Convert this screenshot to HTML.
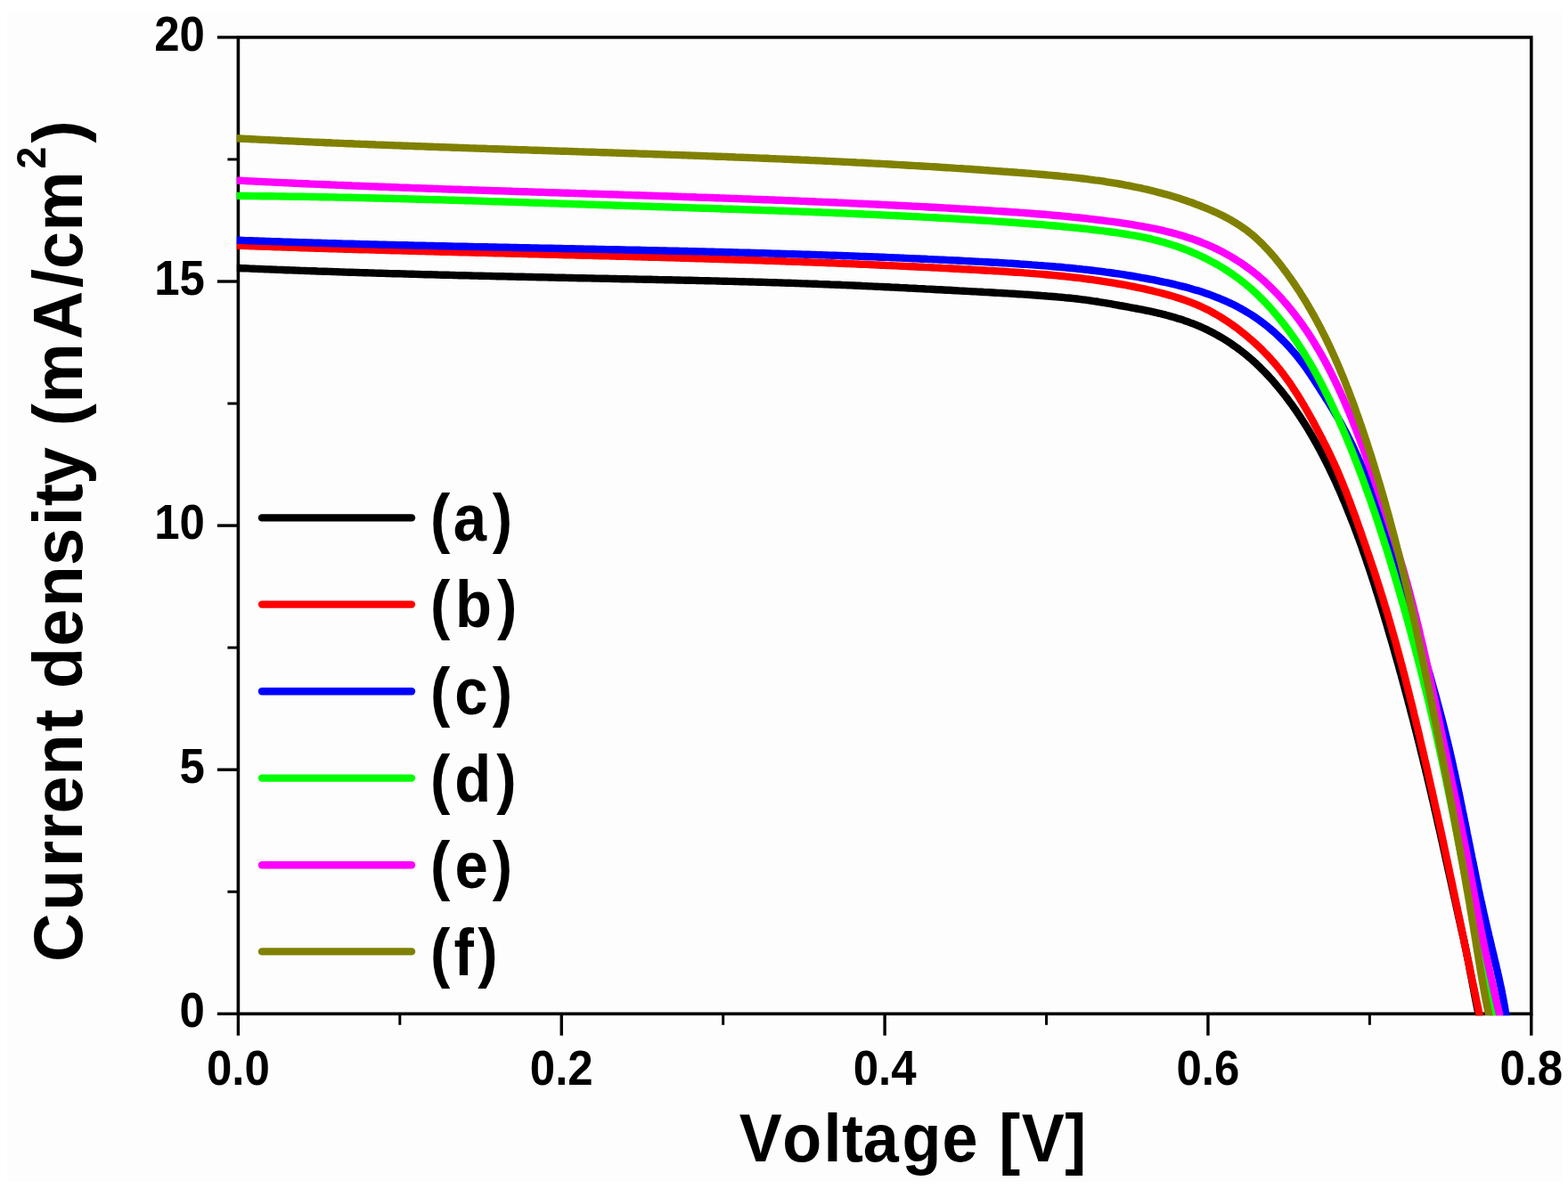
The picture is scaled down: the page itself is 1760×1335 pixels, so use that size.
<!DOCTYPE html>
<html lang="en">
<head>
<meta charset="utf-8">
<title>Current density vs Voltage</title>
<style>
html,body{margin:0;padding:0;background:#fff;}
body{width:1760px;height:1335px;overflow:hidden;}
svg{display:block;}
</style>
</head>
<body>
<svg width="1760" height="1335" viewBox="0 0 1760 1335" role="img" aria-label="Current density versus voltage curves (a) to (f)">
<rect x="0" y="0" width="1760" height="1335" fill="#ffffff"/>
<rect x="8" y="12" width="1746" height="1315" fill="#fdfdfd"/>
<rect x="267.4" y="41.9" width="1451.4" height="1096.4" fill="none" stroke="#000" stroke-width="3.6"/>
<g stroke="#000" stroke-width="3.4" fill="none">
<line x1="243.9" y1="1138.3" x2="267.4" y2="1138.3"/>
<line x1="243.9" y1="864.2" x2="267.4" y2="864.2"/>
<line x1="243.9" y1="590.1" x2="267.4" y2="590.1"/>
<line x1="243.9" y1="316.0" x2="267.4" y2="316.0"/>
<line x1="243.9" y1="41.9" x2="267.4" y2="41.9"/>
<line x1="255.4" y1="1001.25" x2="267.4" y2="1001.25" stroke-width="3"/>
<line x1="255.4" y1="727.15" x2="267.4" y2="727.15" stroke-width="3"/>
<line x1="255.4" y1="453.05" x2="267.4" y2="453.05" stroke-width="3"/>
<line x1="255.4" y1="178.95" x2="267.4" y2="178.95" stroke-width="3"/>
<line x1="267.4" y1="1138.3" x2="267.4" y2="1162.7"/>
<line x1="630.25" y1="1138.3" x2="630.25" y2="1162.7"/>
<line x1="993.1" y1="1138.3" x2="993.1" y2="1162.7"/>
<line x1="1355.95" y1="1138.3" x2="1355.95" y2="1162.7"/>
<line x1="1718.8" y1="1138.3" x2="1718.8" y2="1162.7"/>
<line x1="448.82" y1="1138.3" x2="448.82" y2="1150.8" stroke-width="3"/>
<line x1="811.68" y1="1138.3" x2="811.68" y2="1150.8" stroke-width="3"/>
<line x1="1174.53" y1="1138.3" x2="1174.53" y2="1150.8" stroke-width="3"/>
<line x1="1537.38" y1="1138.3" x2="1537.38" y2="1150.8" stroke-width="3"/>
</g>
<clipPath id="cp"><rect x="265.8" y="41.9" width="1451.4" height="1098.3"/></clipPath>
<g clip-path="url(#cp)" fill="none" stroke-width="8.4" stroke-linejoin="round" stroke-linecap="butt">
<path d="M262.0,300.7 L265.3,300.9 L268.5,301.0 L271.8,301.2 L275.0,301.3 L278.3,301.4 L281.5,301.6 L284.8,301.7 L288.0,301.9 L291.3,302.0 L294.5,302.1 L297.8,302.3 L301.0,302.4 L304.3,302.5 L307.5,302.6 L310.8,302.8 L314.0,302.9 L317.3,303.0 L320.5,303.2 L323.8,303.3 L327.0,303.4 L330.3,303.5 L333.6,303.6 L336.8,303.8 L340.1,303.9 L343.3,304.0 L346.6,304.1 L349.8,304.2 L353.1,304.3 L356.3,304.5 L359.6,304.6 L362.8,304.7 L366.1,304.8 L369.3,304.9 L372.6,305.0 L375.8,305.1 L379.1,305.2 L382.3,305.4 L385.6,305.5 L388.8,305.6 L392.1,305.7 L395.3,305.8 L398.6,305.9 L401.9,306.0 L405.1,306.1 L408.4,306.2 L411.6,306.3 L414.9,306.4 L418.1,306.5 L421.4,306.6 L424.6,306.7 L427.9,306.8 L431.1,306.9 L434.4,307.0 L437.6,307.1 L440.9,307.2 L444.1,307.3 L447.4,307.3 L450.6,307.4 L453.9,307.5 L457.2,307.6 L460.4,307.7 L463.7,307.8 L466.9,307.9 L470.2,308.0 L473.4,308.1 L476.7,308.2 L479.9,308.2 L483.2,308.3 L486.4,308.4 L489.7,308.5 L492.9,308.6 L496.2,308.7 L499.4,308.7 L502.7,308.8 L506.0,308.9 L509.2,309.0 L512.5,309.1 L515.7,309.2 L519.0,309.2 L522.2,309.3 L525.5,309.4 L528.7,309.5 L532.0,309.6 L535.2,309.6 L538.5,309.7 L541.7,309.8 L545.0,309.9 L548.2,309.9 L551.5,310.0 L554.8,310.1 L558.0,310.2 L561.3,310.2 L564.5,310.3 L567.8,310.4 L571.0,310.5 L574.3,310.5 L577.5,310.6 L580.8,310.7 L584.0,310.8 L587.3,310.8 L590.5,310.9 L593.8,311.0 L597.0,311.0 L600.3,311.1 L603.6,311.2 L606.8,311.3 L610.1,311.3 L613.3,311.4 L616.6,311.5 L619.8,311.5 L623.1,311.6 L626.3,311.7 L629.6,311.7 L632.8,311.8 L636.1,311.9 L639.3,312.0 L642.6,312.0 L645.9,312.1 L649.1,312.2 L652.4,312.2 L655.6,312.3 L658.9,312.4 L662.1,312.4 L665.4,312.5 L668.6,312.6 L671.9,312.6 L675.1,312.7 L678.4,312.8 L681.6,312.8 L684.9,312.9 L688.2,313.0 L691.4,313.0 L694.7,313.1 L697.9,313.2 L701.2,313.2 L704.4,313.3 L707.7,313.4 L710.9,313.4 L714.2,313.5 L717.4,313.6 L720.7,313.6 L723.9,313.7 L727.2,313.8 L730.5,313.8 L733.7,313.9 L737.0,314.0 L740.2,314.1 L743.5,314.1 L746.7,314.2 L750.0,314.3 L753.2,314.3 L756.5,314.4 L759.7,314.5 L763.0,314.5 L766.3,314.6 L769.5,314.7 L772.8,314.8 L776.0,314.8 L779.3,314.9 L782.5,315.0 L785.8,315.1 L789.0,315.1 L792.3,315.2 L795.5,315.3 L798.8,315.4 L802.0,315.4 L805.3,315.5 L808.6,315.6 L811.8,315.7 L815.1,315.8 L818.3,315.9 L821.6,315.9 L824.8,316.0 L828.1,316.1 L831.3,316.2 L834.6,316.3 L837.8,316.4 L841.1,316.5 L844.3,316.5 L847.6,316.6 L850.8,316.7 L854.1,316.8 L857.4,316.9 L860.6,317.0 L863.9,317.1 L867.1,317.2 L870.4,317.3 L873.6,317.4 L876.9,317.5 L880.1,317.6 L883.4,317.7 L886.6,317.8 L889.9,317.9 L893.1,318.0 L896.4,318.1 L899.6,318.3 L902.9,318.4 L906.1,318.5 L909.4,318.6 L912.6,318.7 L915.9,318.8 L919.2,319.0 L922.4,319.1 L925.7,319.2 L928.9,319.3 L932.2,319.5 L935.4,319.6 L938.7,319.7 L941.9,319.8 L945.2,320.0 L948.4,320.1 L951.7,320.2 L954.9,320.4 L958.2,320.5 L961.4,320.7 L964.7,320.8 L967.9,321.0 L971.2,321.1 L974.4,321.3 L977.7,321.4 L980.9,321.6 L984.2,321.7 L987.4,321.9 L990.7,322.0 L993.9,322.2 L997.2,322.3 L1000.4,322.5 L1003.7,322.6 L1006.9,322.8 L1010.2,323.0 L1013.4,323.1 L1016.7,323.3 L1019.9,323.5 L1023.2,323.6 L1026.4,323.8 L1029.7,324.0 L1032.9,324.1 L1036.2,324.3 L1039.4,324.5 L1042.7,324.6 L1045.9,324.8 L1049.2,325.0 L1052.4,325.2 L1055.7,325.3 L1058.9,325.5 L1062.2,325.7 L1065.4,325.8 L1068.7,326.0 L1071.9,326.2 L1075.2,326.4 L1078.4,326.6 L1081.7,326.7 L1084.9,326.9 L1088.2,327.1 L1091.4,327.3 L1094.7,327.4 L1097.9,327.6 L1101.2,327.8 L1104.4,328.0 L1107.7,328.1 L1110.9,328.3 L1114.2,328.5 L1117.4,328.7 L1120.7,328.9 L1123.9,329.0 L1127.2,329.2 L1130.4,329.4 L1133.7,329.6 L1136.9,329.8 L1140.2,330.0 L1143.4,330.2 L1146.7,330.4 L1149.9,330.6 L1153.2,330.8 L1156.4,331.0 L1159.7,331.3 L1162.9,331.5 L1166.2,331.7 L1169.4,332.0 L1172.6,332.2 L1175.9,332.5 L1179.1,332.7 L1182.4,333.0 L1185.6,333.3 L1188.9,333.6 L1192.1,333.8 L1195.3,334.2 L1198.6,334.5 L1201.8,334.8 L1205.0,335.1 L1208.3,335.5 L1211.5,335.9 L1214.7,336.3 L1217.9,336.7 L1221.2,337.1 L1224.4,337.6 L1227.6,338.1 L1230.8,338.5 L1234.0,339.1 L1237.2,339.6 L1240.4,340.1 L1243.7,340.7 L1246.9,341.2 L1250.1,341.8 L1253.3,342.4 L1256.5,343.0 L1259.7,343.5 L1262.9,344.1 L1266.1,344.7 L1269.3,345.3 L1272.5,345.9 L1275.7,346.5 L1278.9,347.1 L1282.1,347.7 L1285.3,348.4 L1288.5,349.0 L1291.7,349.7 L1294.9,350.4 L1298.0,351.1 L1301.2,351.8 L1304.4,352.6 L1307.5,353.4 L1310.7,354.2 L1313.8,355.1 L1317.0,356.0 L1320.1,356.9 L1323.2,357.9 L1326.3,358.8 L1329.4,359.9 L1332.5,360.9 L1335.5,362.1 L1338.6,363.2 L1341.6,364.4 L1344.6,365.6 L1347.6,366.9 L1350.6,368.3 L1353.5,369.6 L1356.4,371.1 L1359.4,372.5 L1362.2,374.0 L1365.1,375.6 L1368.0,377.2 L1370.8,378.8 L1373.6,380.5 L1376.4,382.3 L1379.1,384.0 L1381.8,385.8 L1384.5,387.7 L1387.2,389.6 L1389.8,391.5 L1392.5,393.5 L1395.0,395.5 L1397.6,397.5 L1400.1,399.6 L1402.6,401.7 L1405.1,403.9 L1407.5,406.0 L1409.9,408.2 L1412.3,410.5 L1414.6,412.8 L1416.9,415.1 L1419.2,417.4 L1421.5,419.7 L1423.7,422.1 L1425.9,424.5 L1428.1,426.9 L1430.2,429.4 L1432.3,431.9 L1434.4,434.4 L1436.5,436.9 L1438.6,439.4 L1440.6,442.0 L1442.6,444.5 L1444.6,447.1 L1446.5,449.7 L1448.4,452.3 L1450.4,454.9 L1452.2,457.6 L1454.1,460.2 L1455.9,462.9 L1457.8,465.6 L1459.6,468.3 L1461.3,471.0 L1463.1,473.8 L1464.8,476.5 L1466.6,479.3 L1468.3,482.0 L1469.9,484.8 L1471.6,487.6 L1473.2,490.4 L1474.9,493.3 L1476.5,496.1 L1478.1,498.9 L1479.6,501.8 L1481.2,504.6 L1482.7,507.5 L1484.2,510.4 L1485.7,513.3 L1487.2,516.2 L1488.7,519.1 L1490.1,522.0 L1491.6,524.9 L1493.0,527.9 L1494.4,530.8 L1495.8,533.8 L1497.2,536.7 L1498.6,539.7 L1499.9,542.6 L1501.2,545.6 L1502.6,548.6 L1503.9,551.6 L1505.2,554.6 L1506.5,557.6 L1507.7,560.6 L1509.0,563.6 L1510.3,566.6 L1511.5,569.6 L1512.7,572.6 L1513.9,575.6 L1515.2,578.7 L1516.3,581.7 L1517.5,584.7 L1518.7,587.7 L1519.9,590.8 L1521.0,593.8 L1522.2,596.9 L1523.3,599.9 L1524.4,603.0 L1525.6,606.0 L1526.7,609.1 L1527.8,612.1 L1528.9,615.2 L1529.9,618.3 L1531.0,621.3 L1532.1,624.4 L1533.2,627.5 L1534.2,630.6 L1535.2,633.6 L1536.3,636.7 L1537.3,639.8 L1538.3,642.9 L1539.4,646.0 L1540.4,649.1 L1541.4,652.2 L1542.4,655.3 L1543.4,658.4 L1544.3,661.5 L1545.3,664.6 L1546.3,667.7 L1547.3,670.8 L1548.2,673.9 L1549.2,677.0 L1550.1,680.1 L1551.1,683.2 L1552.0,686.3 L1553.0,689.4 L1553.9,692.6 L1554.8,695.7 L1555.8,698.8 L1556.7,701.9 L1557.6,705.0 L1558.5,708.2 L1559.4,711.3 L1560.3,714.4 L1561.3,717.5 L1562.2,720.7 L1563.1,723.8 L1564.0,726.9 L1564.9,730.0 L1565.7,733.2 L1566.6,736.3 L1567.5,739.4 L1568.4,742.6 L1569.3,745.7 L1570.2,748.8 L1571.0,752.0 L1571.9,755.1 L1572.8,758.2 L1573.6,761.4 L1574.5,764.5 L1575.3,767.7 L1576.2,770.8 L1577.0,773.9 L1577.9,777.1 L1578.7,780.2 L1579.6,783.4 L1580.4,786.5 L1581.2,789.7 L1582.1,792.8 L1582.9,796.0 L1583.7,799.1 L1584.5,802.3 L1585.4,805.4 L1586.2,808.6 L1587.0,811.7 L1587.8,814.9 L1588.6,818.0 L1589.4,821.2 L1590.2,824.3 L1591.0,827.5 L1591.8,830.6 L1592.6,833.8 L1593.4,837.0 L1594.2,840.1 L1594.9,843.3 L1595.7,846.4 L1596.5,849.6 L1597.3,852.8 L1598.0,855.9 L1598.8,859.1 L1599.6,862.2 L1600.3,865.4 L1601.1,868.6 L1601.9,871.7 L1602.6,874.9 L1603.4,878.1 L1604.1,881.2 L1604.9,884.4 L1605.6,887.6 L1606.4,890.8 L1607.1,893.9 L1607.8,897.1 L1608.6,900.3 L1609.3,903.4 L1610.0,906.6 L1610.7,909.8 L1611.5,913.0 L1612.2,916.1 L1612.9,919.3 L1613.6,922.5 L1614.3,925.7 L1615.0,928.8 L1615.8,932.0 L1616.5,935.2 L1617.2,938.4 L1617.9,941.5 L1618.6,944.7 L1619.3,947.9 L1620.0,951.1 L1620.7,954.3 L1621.4,957.4 L1622.1,960.6 L1622.8,963.8 L1623.5,967.0 L1624.2,970.1 L1624.9,973.3 L1625.6,976.5 L1626.3,979.7 L1627.0,982.9 L1627.7,986.0 L1628.4,989.2 L1629.1,992.4 L1629.8,995.6 L1630.5,998.7 L1631.2,1001.9 L1631.9,1005.1 L1632.6,1008.3 L1633.3,1011.4 L1634.0,1014.6 L1634.7,1017.8 L1635.4,1021.0 L1636.1,1024.1 L1636.8,1027.3 L1637.5,1030.5 L1638.2,1033.7 L1638.9,1036.8 L1639.6,1040.0 L1640.3,1043.2 L1641.0,1046.4 L1641.7,1049.5 L1642.5,1052.7 L1643.2,1055.9 L1643.8,1059.0 L1644.5,1062.2 L1645.2,1065.4 L1645.9,1068.6 L1646.5,1071.8 L1647.1,1075.0 L1647.8,1078.1 L1648.4,1081.3 L1649.0,1084.5 L1649.6,1087.7 L1650.2,1090.9 L1650.8,1094.1 L1651.5,1097.3 L1652.1,1100.5 L1652.7,1103.7 L1653.3,1106.9 L1653.9,1110.1 L1654.5,1113.3 L1655.1,1116.5 L1655.7,1119.7 L1656.3,1122.8 L1657.0,1126.0 L1657.6,1129.2 L1658.2,1132.4 L1658.9,1135.6 L1659.6,1138.8 L1660.2,1142.0" stroke="#000000"/>
<path d="M262.0,275.5 L265.3,275.7 L268.6,275.8 L271.8,275.9 L275.1,276.0 L278.4,276.1 L281.7,276.3 L285.0,276.4 L288.3,276.5 L291.6,276.6 L294.9,276.7 L298.2,276.8 L301.5,276.9 L304.7,277.1 L308.0,277.2 L311.3,277.3 L314.6,277.4 L317.9,277.5 L321.2,277.6 L324.5,277.7 L327.8,277.8 L331.1,277.9 L334.4,278.0 L337.6,278.2 L340.9,278.3 L344.2,278.4 L347.5,278.5 L350.8,278.6 L354.1,278.7 L357.4,278.8 L360.7,278.9 L364.0,279.0 L367.3,279.1 L370.5,279.2 L373.8,279.3 L377.1,279.4 L380.4,279.5 L383.7,279.6 L387.0,279.7 L390.3,279.8 L393.6,279.9 L396.9,280.0 L400.2,280.1 L403.4,280.2 L406.7,280.2 L410.0,280.3 L413.3,280.4 L416.6,280.5 L419.9,280.6 L423.2,280.7 L426.5,280.8 L429.8,280.9 L433.0,281.0 L436.3,281.1 L439.6,281.2 L442.9,281.3 L446.2,281.4 L449.5,281.4 L452.8,281.5 L456.1,281.6 L459.4,281.7 L462.7,281.8 L465.9,281.9 L469.2,282.0 L472.5,282.1 L475.8,282.1 L479.1,282.2 L482.4,282.3 L485.7,282.4 L489.0,282.5 L492.3,282.6 L495.5,282.7 L498.8,282.7 L502.1,282.8 L505.4,282.9 L508.7,283.0 L512.0,283.1 L515.3,283.2 L518.6,283.3 L521.9,283.3 L525.1,283.4 L528.4,283.5 L531.7,283.6 L535.0,283.7 L538.3,283.8 L541.6,283.8 L544.9,283.9 L548.2,284.0 L551.5,284.1 L554.8,284.2 L558.0,284.3 L561.3,284.3 L564.6,284.4 L567.9,284.5 L571.2,284.6 L574.5,284.7 L577.8,284.7 L581.1,284.8 L584.4,284.9 L587.6,285.0 L590.9,285.1 L594.2,285.2 L597.5,285.2 L600.8,285.3 L604.1,285.4 L607.4,285.5 L610.7,285.6 L614.0,285.7 L617.2,285.7 L620.5,285.8 L623.8,285.9 L627.1,286.0 L630.4,286.1 L633.7,286.2 L637.0,286.2 L640.3,286.3 L643.6,286.4 L646.8,286.5 L650.1,286.6 L653.4,286.7 L656.7,286.7 L660.0,286.8 L663.3,286.9 L666.6,287.0 L669.9,287.1 L673.2,287.2 L676.4,287.2 L679.7,287.3 L683.0,287.4 L686.3,287.5 L689.6,287.6 L692.9,287.7 L696.2,287.8 L699.5,287.9 L702.8,287.9 L706.0,288.0 L709.3,288.1 L712.6,288.2 L715.9,288.3 L719.2,288.4 L722.5,288.5 L725.8,288.6 L729.1,288.7 L732.3,288.7 L735.6,288.8 L738.9,288.9 L742.2,289.0 L745.5,289.1 L748.8,289.2 L752.1,289.3 L755.4,289.4 L758.7,289.5 L761.9,289.6 L765.2,289.7 L768.5,289.8 L771.8,289.9 L775.1,290.0 L778.4,290.1 L781.7,290.2 L785.0,290.3 L788.3,290.4 L791.5,290.5 L794.8,290.6 L798.1,290.7 L801.4,290.8 L804.7,290.9 L808.0,291.0 L811.3,291.1 L814.6,291.2 L817.9,291.3 L821.1,291.4 L824.4,291.5 L827.7,291.6 L831.0,291.7 L834.3,291.8 L837.6,291.9 L840.9,292.0 L844.2,292.1 L847.5,292.2 L850.7,292.3 L854.0,292.4 L857.3,292.6 L860.6,292.7 L863.9,292.8 L867.2,292.9 L870.5,293.0 L873.8,293.1 L877.0,293.2 L880.3,293.3 L883.6,293.5 L886.9,293.6 L890.2,293.7 L893.5,293.8 L896.8,293.9 L900.1,294.1 L903.4,294.2 L906.6,294.3 L909.9,294.4 L913.2,294.6 L916.5,294.7 L919.8,294.8 L923.1,294.9 L926.4,295.1 L929.7,295.2 L933.0,295.3 L936.2,295.4 L939.5,295.6 L942.8,295.7 L946.1,295.8 L949.4,296.0 L952.7,296.1 L956.0,296.2 L959.3,296.4 L962.5,296.5 L965.8,296.7 L969.1,296.8 L972.4,296.9 L975.7,297.1 L979.0,297.2 L982.3,297.4 L985.6,297.5 L988.9,297.7 L992.1,297.8 L995.4,298.0 L998.7,298.1 L1002.0,298.3 L1005.3,298.4 L1008.6,298.6 L1011.9,298.7 L1015.2,298.9 L1018.4,299.0 L1021.7,299.2 L1025.0,299.3 L1028.3,299.5 L1031.6,299.7 L1034.9,299.8 L1038.2,300.0 L1041.5,300.1 L1044.8,300.3 L1048.0,300.5 L1051.3,300.6 L1054.6,300.8 L1057.9,301.0 L1061.2,301.1 L1064.5,301.3 L1067.8,301.5 L1071.1,301.7 L1074.4,301.8 L1077.6,302.0 L1080.9,302.2 L1084.2,302.4 L1087.5,302.5 L1090.8,302.7 L1094.1,302.9 L1097.4,303.1 L1100.7,303.3 L1103.9,303.5 L1107.2,303.7 L1110.5,303.9 L1113.8,304.0 L1117.1,304.2 L1120.4,304.4 L1123.7,304.6 L1127.0,304.8 L1130.2,305.0 L1133.5,305.3 L1136.8,305.5 L1140.1,305.7 L1143.4,305.9 L1146.7,306.1 L1150.0,306.4 L1153.2,306.6 L1156.5,306.9 L1159.8,307.1 L1163.1,307.4 L1166.4,307.6 L1169.6,307.9 L1172.9,308.2 L1176.2,308.5 L1179.5,308.8 L1182.7,309.1 L1186.0,309.4 L1189.3,309.7 L1192.6,310.0 L1195.8,310.4 L1199.1,310.7 L1202.4,311.1 L1205.6,311.5 L1208.9,311.8 L1212.1,312.2 L1215.4,312.6 L1218.7,313.1 L1221.9,313.5 L1225.2,313.9 L1228.4,314.4 L1231.7,314.8 L1234.9,315.3 L1238.2,315.8 L1241.4,316.3 L1244.6,316.8 L1247.9,317.3 L1251.1,317.9 L1254.3,318.5 L1257.6,319.0 L1260.8,319.6 L1264.0,320.2 L1267.3,320.8 L1270.5,321.5 L1273.7,322.1 L1276.9,322.8 L1280.1,323.5 L1283.3,324.2 L1286.6,324.9 L1289.8,325.7 L1293.0,326.4 L1296.2,327.2 L1299.4,328.0 L1302.5,328.8 L1305.7,329.6 L1308.9,330.5 L1312.1,331.4 L1315.3,332.3 L1318.4,333.2 L1321.6,334.2 L1324.7,335.2 L1327.8,336.3 L1330.9,337.4 L1334.0,338.5 L1337.1,339.6 L1340.2,340.9 L1343.2,342.1 L1346.2,343.4 L1349.2,344.8 L1352.2,346.2 L1355.1,347.6 L1358.1,349.1 L1361.0,350.7 L1363.8,352.3 L1366.7,354.0 L1369.5,355.7 L1372.3,357.4 L1375.1,359.2 L1377.9,361.0 L1380.6,362.9 L1383.3,364.8 L1386.0,366.7 L1388.7,368.7 L1391.3,370.7 L1393.9,372.8 L1396.5,374.8 L1399.1,376.9 L1401.6,379.1 L1404.1,381.2 L1406.6,383.4 L1409.1,385.6 L1411.5,387.9 L1413.9,390.1 L1416.3,392.4 L1418.6,394.8 L1420.9,397.1 L1423.2,399.5 L1425.4,401.9 L1427.6,404.4 L1429.8,406.8 L1431.9,409.3 L1434.0,411.9 L1436.1,414.4 L1438.1,417.0 L1440.1,419.6 L1442.0,422.2 L1444.0,424.9 L1445.9,427.5 L1447.8,430.2 L1449.6,432.9 L1451.4,435.7 L1453.2,438.4 L1455.0,441.2 L1456.8,443.9 L1458.5,446.7 L1460.2,449.5 L1461.9,452.4 L1463.6,455.2 L1465.2,458.0 L1466.9,460.9 L1468.5,463.8 L1470.1,466.6 L1471.7,469.5 L1473.3,472.4 L1474.9,475.3 L1476.4,478.2 L1478.0,481.1 L1479.5,484.1 L1481.1,487.0 L1482.6,489.9 L1484.1,492.8 L1485.6,495.8 L1487.1,498.7 L1488.6,501.7 L1490.0,504.6 L1491.5,507.6 L1492.9,510.6 L1494.3,513.5 L1495.7,516.5 L1497.1,519.5 L1498.4,522.5 L1499.8,525.5 L1501.1,528.5 L1502.4,531.5 L1503.7,534.6 L1504.9,537.6 L1506.2,540.6 L1507.4,543.7 L1508.6,546.7 L1509.9,549.8 L1511.1,552.8 L1512.2,555.9 L1513.4,559.0 L1514.6,562.0 L1515.7,565.1 L1516.9,568.2 L1518.0,571.3 L1519.1,574.4 L1520.3,577.4 L1521.4,580.5 L1522.5,583.6 L1523.6,586.7 L1524.7,589.8 L1525.8,592.9 L1526.9,596.0 L1528.0,599.1 L1529.1,602.3 L1530.1,605.4 L1531.2,608.5 L1532.3,611.6 L1533.4,614.7 L1534.4,617.8 L1535.5,620.9 L1536.6,624.0 L1537.6,627.2 L1538.7,630.3 L1539.7,633.4 L1540.8,636.5 L1541.8,639.6 L1542.9,642.8 L1543.9,645.9 L1544.9,649.0 L1545.9,652.2 L1546.9,655.3 L1547.9,658.4 L1548.9,661.6 L1549.9,664.7 L1550.9,667.9 L1551.9,671.0 L1552.8,674.2 L1553.8,677.3 L1554.7,680.5 L1555.7,683.6 L1556.6,686.8 L1557.6,689.9 L1558.5,693.1 L1559.4,696.2 L1560.3,699.4 L1561.2,702.5 L1562.1,705.7 L1563.0,708.9 L1563.9,712.0 L1564.8,715.2 L1565.7,718.4 L1566.6,721.5 L1567.5,724.7 L1568.3,727.9 L1569.2,731.1 L1570.1,734.2 L1570.9,737.4 L1571.8,740.6 L1572.6,743.8 L1573.5,746.9 L1574.3,750.1 L1575.1,753.3 L1576.0,756.5 L1576.8,759.7 L1577.6,762.9 L1578.4,766.1 L1579.2,769.2 L1580.0,772.4 L1580.8,775.6 L1581.6,778.8 L1582.4,782.0 L1583.2,785.2 L1584.0,788.4 L1584.8,791.6 L1585.6,794.8 L1586.4,798.0 L1587.1,801.2 L1587.9,804.4 L1588.7,807.6 L1589.5,810.8 L1590.2,814.0 L1591.0,817.2 L1591.8,820.4 L1592.5,823.6 L1593.3,826.8 L1594.0,830.0 L1594.8,833.2 L1595.5,836.4 L1596.3,839.6 L1597.0,842.8 L1597.8,846.0 L1598.5,849.2 L1599.2,852.4 L1600.0,855.6 L1600.7,858.8 L1601.5,862.0 L1602.2,865.2 L1602.9,868.4 L1603.6,871.6 L1604.4,874.9 L1605.1,878.1 L1605.8,881.3 L1606.5,884.5 L1607.3,887.7 L1608.0,890.9 L1608.7,894.1 L1609.4,897.3 L1610.1,900.5 L1610.8,903.8 L1611.5,907.0 L1612.3,910.2 L1613.0,913.4 L1613.7,916.6 L1614.4,919.8 L1615.1,923.0 L1615.8,926.3 L1616.5,929.5 L1617.2,932.7 L1617.9,935.9 L1618.6,939.1 L1619.3,942.3 L1620.0,945.6 L1620.7,948.8 L1621.3,952.0 L1622.0,955.2 L1622.7,958.4 L1623.4,961.6 L1624.1,964.9 L1624.8,968.1 L1625.5,971.3 L1626.2,974.5 L1626.8,977.7 L1627.5,981.0 L1628.2,984.2 L1628.9,987.4 L1629.6,990.6 L1630.3,993.8 L1630.9,997.1 L1631.6,1000.3 L1632.3,1003.5 L1633.0,1006.7 L1633.6,1009.9 L1634.3,1013.2 L1635.0,1016.4 L1635.7,1019.6 L1636.3,1022.8 L1637.0,1026.0 L1637.7,1029.3 L1638.4,1032.5 L1639.0,1035.7 L1639.7,1038.9 L1640.4,1042.2 L1641.0,1045.4 L1641.7,1048.6 L1642.4,1051.8 L1643.1,1055.0 L1643.7,1058.3 L1644.4,1061.5 L1645.1,1064.7 L1645.7,1067.9 L1646.4,1071.1 L1647.1,1074.4 L1647.7,1077.6 L1648.4,1080.8 L1649.1,1084.0 L1649.8,1087.3 L1650.4,1090.5 L1651.1,1093.7 L1651.8,1096.9 L1652.4,1100.1 L1653.1,1103.4 L1653.8,1106.6 L1654.5,1109.8 L1655.1,1113.0 L1655.8,1116.2 L1656.5,1119.5 L1657.1,1122.7 L1657.8,1125.9 L1658.5,1129.1 L1659.2,1132.3 L1659.8,1135.6 L1660.5,1138.8 L1661.2,1142.0" stroke="#ff0000"/>
<path d="M262.0,269.6 L265.3,269.7 L268.7,269.8 L272.0,269.9 L275.4,270.1 L278.7,270.2 L282.1,270.3 L285.4,270.4 L288.8,270.5 L292.1,270.7 L295.5,270.8 L298.8,270.9 L302.1,271.0 L305.5,271.1 L308.8,271.2 L312.2,271.3 L315.5,271.4 L318.9,271.6 L322.2,271.7 L325.6,271.8 L328.9,271.9 L332.2,272.0 L335.6,272.1 L338.9,272.2 L342.3,272.3 L345.6,272.4 L349.0,272.5 L352.3,272.6 L355.7,272.7 L359.0,272.8 L362.4,272.9 L365.7,273.0 L369.0,273.1 L372.4,273.2 L375.7,273.3 L379.1,273.4 L382.4,273.5 L385.8,273.6 L389.1,273.6 L392.5,273.7 L395.8,273.8 L399.2,273.9 L402.5,274.0 L405.8,274.1 L409.2,274.2 L412.5,274.3 L415.9,274.4 L419.2,274.4 L422.6,274.5 L425.9,274.6 L429.3,274.7 L432.6,274.8 L436.0,274.9 L439.3,274.9 L442.6,275.0 L446.0,275.1 L449.3,275.2 L452.7,275.3 L456.0,275.3 L459.4,275.4 L462.7,275.5 L466.1,275.6 L469.4,275.7 L472.8,275.7 L476.1,275.8 L479.5,275.9 L482.8,276.0 L486.1,276.0 L489.5,276.1 L492.8,276.2 L496.2,276.3 L499.5,276.3 L502.9,276.4 L506.2,276.5 L509.6,276.6 L512.9,276.6 L516.3,276.7 L519.6,276.8 L523.0,276.8 L526.3,276.9 L529.6,277.0 L533.0,277.1 L536.3,277.1 L539.7,277.2 L543.0,277.3 L546.4,277.3 L549.7,277.4 L553.1,277.5 L556.4,277.5 L559.8,277.6 L563.1,277.7 L566.5,277.8 L569.8,277.8 L573.2,277.9 L576.5,278.0 L579.8,278.0 L583.2,278.1 L586.5,278.2 L589.9,278.2 L593.2,278.3 L596.6,278.4 L599.9,278.4 L603.3,278.5 L606.6,278.6 L610.0,278.6 L613.3,278.7 L616.7,278.8 L620.0,278.8 L623.3,278.9 L626.7,279.0 L630.0,279.0 L633.4,279.1 L636.7,279.2 L640.1,279.2 L643.4,279.3 L646.8,279.4 L650.1,279.4 L653.5,279.5 L656.8,279.6 L660.2,279.6 L663.5,279.7 L666.9,279.8 L670.2,279.9 L673.5,279.9 L676.9,280.0 L680.2,280.1 L683.6,280.1 L686.9,280.2 L690.3,280.3 L693.6,280.3 L697.0,280.4 L700.3,280.5 L703.7,280.6 L707.0,280.6 L710.4,280.7 L713.7,280.8 L717.0,280.8 L720.4,280.9 L723.7,281.0 L727.1,281.1 L730.4,281.1 L733.8,281.2 L737.1,281.3 L740.5,281.4 L743.8,281.4 L747.2,281.5 L750.5,281.6 L753.9,281.7 L757.2,281.7 L760.5,281.8 L763.9,281.9 L767.2,282.0 L770.6,282.0 L773.9,282.1 L777.3,282.2 L780.6,282.3 L784.0,282.4 L787.3,282.4 L790.7,282.5 L794.0,282.6 L797.4,282.7 L800.7,282.8 L804.0,282.9 L807.4,282.9 L810.7,283.0 L814.1,283.1 L817.4,283.2 L820.8,283.3 L824.1,283.4 L827.5,283.5 L830.8,283.6 L834.2,283.6 L837.5,283.7 L840.8,283.8 L844.2,283.9 L847.5,284.0 L850.9,284.1 L854.2,284.2 L857.6,284.3 L860.9,284.4 L864.3,284.5 L867.6,284.6 L871.0,284.7 L874.3,284.8 L877.6,284.9 L881.0,285.0 L884.3,285.1 L887.7,285.2 L891.0,285.3 L894.4,285.4 L897.7,285.5 L901.1,285.6 L904.4,285.7 L907.8,285.8 L911.1,285.9 L914.4,286.0 L917.8,286.1 L921.1,286.2 L924.5,286.4 L927.8,286.5 L931.2,286.6 L934.5,286.7 L937.9,286.8 L941.2,286.9 L944.5,287.0 L947.9,287.2 L951.2,287.3 L954.6,287.4 L957.9,287.5 L961.3,287.6 L964.6,287.8 L968.0,287.9 L971.3,288.0 L974.6,288.2 L978.0,288.3 L981.3,288.4 L984.7,288.5 L988.0,288.7 L991.4,288.8 L994.7,288.9 L998.1,289.1 L1001.4,289.2 L1004.7,289.4 L1008.1,289.5 L1011.4,289.6 L1014.8,289.8 L1018.1,289.9 L1021.5,290.1 L1024.8,290.2 L1028.2,290.4 L1031.5,290.5 L1034.8,290.7 L1038.2,290.8 L1041.5,291.0 L1044.9,291.1 L1048.2,291.3 L1051.6,291.4 L1054.9,291.6 L1058.2,291.7 L1061.6,291.9 L1064.9,292.1 L1068.3,292.2 L1071.6,292.4 L1075.0,292.5 L1078.3,292.7 L1081.6,292.9 L1085.0,293.1 L1088.3,293.2 L1091.7,293.4 L1095.0,293.6 L1098.4,293.8 L1101.7,293.9 L1105.0,294.1 L1108.4,294.3 L1111.7,294.5 L1115.1,294.7 L1118.4,294.8 L1121.8,295.0 L1125.1,295.2 L1128.4,295.4 L1131.8,295.6 L1135.1,295.8 L1138.5,296.0 L1141.8,296.2 L1145.1,296.5 L1148.5,296.7 L1151.8,296.9 L1155.2,297.1 L1158.5,297.4 L1161.8,297.6 L1165.2,297.9 L1168.5,298.1 L1171.9,298.4 L1175.2,298.6 L1178.5,298.9 L1181.9,299.2 L1185.2,299.5 L1188.5,299.7 L1191.9,300.0 L1195.2,300.4 L1198.5,300.7 L1201.8,301.0 L1205.2,301.3 L1208.5,301.7 L1211.8,302.0 L1215.2,302.4 L1218.5,302.7 L1221.8,303.1 L1225.1,303.5 L1228.4,303.9 L1231.8,304.3 L1235.1,304.7 L1238.4,305.1 L1241.7,305.6 L1245.0,306.0 L1248.4,306.5 L1251.7,307.0 L1255.0,307.4 L1258.3,307.9 L1261.6,308.4 L1264.9,309.0 L1268.2,309.5 L1271.5,310.0 L1274.8,310.6 L1278.1,311.2 L1281.4,311.8 L1284.7,312.4 L1288.0,313.0 L1291.3,313.6 L1294.6,314.2 L1297.9,314.9 L1301.2,315.6 L1304.5,316.3 L1307.8,317.0 L1311.1,317.7 L1314.3,318.4 L1317.6,319.2 L1320.9,320.0 L1324.2,320.8 L1327.4,321.6 L1330.7,322.4 L1333.9,323.3 L1337.1,324.2 L1340.3,325.2 L1343.6,326.1 L1346.8,327.1 L1349.9,328.1 L1353.1,329.2 L1356.3,330.3 L1359.4,331.4 L1362.5,332.6 L1365.6,333.8 L1368.7,335.0 L1371.8,336.3 L1374.9,337.6 L1377.9,339.0 L1380.9,340.4 L1383.9,341.8 L1386.9,343.3 L1389.9,344.9 L1392.8,346.5 L1395.7,348.1 L1398.6,349.8 L1401.4,351.5 L1404.3,353.3 L1407.1,355.1 L1409.9,357.0 L1412.6,358.9 L1415.3,360.9 L1418.0,362.9 L1420.7,365.0 L1423.3,367.1 L1425.9,369.3 L1428.5,371.5 L1431.0,373.7 L1433.5,376.0 L1436.0,378.3 L1438.4,380.6 L1440.8,383.0 L1443.2,385.4 L1445.5,387.9 L1447.8,390.4 L1450.0,392.9 L1452.2,395.4 L1454.4,398.0 L1456.5,400.6 L1458.6,403.3 L1460.6,405.9 L1462.6,408.6 L1464.6,411.3 L1466.6,414.0 L1468.5,416.8 L1470.4,419.5 L1472.2,422.3 L1474.1,425.1 L1475.9,427.9 L1477.7,430.7 L1479.5,433.5 L1481.4,436.4 L1483.1,439.2 L1484.9,442.0 L1486.7,444.8 L1488.5,447.7 L1490.3,450.5 L1492.1,453.3 L1493.8,456.2 L1495.6,459.0 L1497.3,461.9 L1499.0,464.8 L1500.7,467.6 L1502.4,470.5 L1504.1,473.4 L1505.7,476.3 L1507.3,479.3 L1508.9,482.2 L1510.5,485.1 L1512.0,488.1 L1513.5,491.1 L1515.0,494.1 L1516.5,497.1 L1518.0,500.1 L1519.4,503.1 L1520.8,506.2 L1522.2,509.2 L1523.6,512.3 L1524.9,515.3 L1526.3,518.4 L1527.6,521.5 L1528.9,524.6 L1530.2,527.7 L1531.5,530.8 L1532.7,533.9 L1534.0,537.0 L1535.2,540.1 L1536.4,543.2 L1537.6,546.3 L1538.8,549.4 L1540.0,552.5 L1541.2,555.7 L1542.3,558.8 L1543.5,562.0 L1544.6,565.1 L1545.7,568.3 L1546.8,571.4 L1547.9,574.6 L1549.0,577.7 L1550.1,580.9 L1551.2,584.0 L1552.3,587.2 L1553.3,590.4 L1554.4,593.6 L1555.4,596.7 L1556.5,599.9 L1557.5,603.1 L1558.5,606.3 L1559.6,609.5 L1560.6,612.7 L1561.6,615.8 L1562.6,619.0 L1563.6,622.2 L1564.6,625.4 L1565.6,628.6 L1566.6,631.8 L1567.6,635.0 L1568.6,638.2 L1569.6,641.4 L1570.6,644.6 L1571.6,647.8 L1572.6,651.0 L1573.6,654.2 L1574.6,657.4 L1575.5,660.6 L1576.5,663.8 L1577.5,667.0 L1578.5,670.2 L1579.5,673.4 L1580.5,676.6 L1581.5,679.8 L1582.5,683.0 L1583.5,686.2 L1584.4,689.4 L1585.4,692.6 L1586.4,695.8 L1587.4,699.0 L1588.4,702.2 L1589.3,705.4 L1590.3,708.6 L1591.3,711.8 L1592.3,715.0 L1593.2,718.2 L1594.2,721.4 L1595.1,724.6 L1596.1,727.8 L1597.1,731.0 L1598.0,734.2 L1599.0,737.4 L1599.9,740.6 L1600.8,743.9 L1601.8,747.1 L1602.7,750.3 L1603.6,753.5 L1604.6,756.7 L1605.5,759.9 L1606.4,763.2 L1607.3,766.4 L1608.2,769.6 L1609.1,772.8 L1610.0,776.0 L1610.9,779.3 L1611.8,782.5 L1612.7,785.7 L1613.5,788.9 L1614.4,792.2 L1615.3,795.4 L1616.1,798.6 L1617.0,801.9 L1617.8,805.1 L1618.7,808.4 L1619.5,811.6 L1620.3,814.8 L1621.1,818.1 L1621.9,821.3 L1622.7,824.6 L1623.5,827.8 L1624.3,831.1 L1625.1,834.3 L1625.9,837.6 L1626.7,840.8 L1627.4,844.1 L1628.2,847.4 L1628.9,850.6 L1629.7,853.9 L1630.4,857.1 L1631.1,860.4 L1631.8,863.7 L1632.6,866.9 L1633.3,870.2 L1634.0,873.5 L1634.7,876.8 L1635.4,880.0 L1636.1,883.3 L1636.8,886.6 L1637.5,889.9 L1638.2,893.1 L1638.8,896.4 L1639.5,899.7 L1640.2,903.0 L1640.9,906.3 L1641.5,909.5 L1642.2,912.8 L1642.9,916.1 L1643.5,919.4 L1644.2,922.7 L1644.9,925.9 L1645.5,929.2 L1646.2,932.5 L1646.8,935.8 L1647.5,939.1 L1648.2,942.4 L1648.8,945.6 L1649.5,948.9 L1650.1,952.2 L1650.8,955.5 L1651.5,958.8 L1652.1,962.1 L1652.8,965.3 L1653.5,968.6 L1654.1,971.9 L1654.8,975.2 L1655.5,978.5 L1656.1,981.7 L1656.8,985.0 L1657.5,988.3 L1658.2,991.6 L1658.9,994.9 L1659.5,998.1 L1660.2,1001.4 L1660.9,1004.7 L1661.6,1008.0 L1662.3,1011.2 L1663.1,1014.5 L1663.8,1017.8 L1664.5,1021.0 L1665.2,1024.3 L1665.9,1027.6 L1666.7,1030.8 L1667.4,1034.1 L1668.2,1037.4 L1668.9,1040.6 L1669.7,1043.9 L1670.5,1047.1 L1671.2,1050.4 L1672.0,1053.6 L1672.8,1056.9 L1673.6,1060.2 L1674.3,1063.4 L1675.1,1066.7 L1675.9,1069.9 L1676.7,1073.2 L1677.4,1076.4 L1678.2,1079.7 L1679.0,1082.9 L1679.7,1086.2 L1680.5,1089.4 L1681.2,1092.7 L1682.0,1096.0 L1682.7,1099.2 L1683.4,1102.5 L1684.1,1105.8 L1684.8,1109.0 L1685.5,1112.3 L1686.1,1115.6 L1686.8,1118.9 L1687.4,1122.2 L1688.0,1125.5 L1688.6,1128.8 L1689.2,1132.1 L1689.7,1135.4 L1690.3,1138.7 L1690.8,1142.0" stroke="#0000ff"/>
<path d="M262.0,219.9 L265.4,219.9 L268.8,219.9 L272.2,220.0 L275.5,220.0 L278.9,220.0 L282.3,220.1 L285.7,220.1 L289.1,220.1 L292.5,220.2 L295.9,220.2 L299.3,220.2 L302.7,220.3 L306.1,220.3 L309.5,220.4 L312.9,220.4 L316.2,220.5 L319.6,220.5 L323.0,220.6 L326.4,220.6 L329.8,220.7 L333.2,220.7 L336.6,220.8 L340.0,220.8 L343.4,220.9 L346.8,220.9 L350.2,221.0 L353.5,221.0 L356.9,221.1 L360.3,221.2 L363.7,221.2 L367.1,221.3 L370.5,221.4 L373.9,221.4 L377.3,221.5 L380.7,221.6 L384.1,221.6 L387.4,221.7 L390.8,221.8 L394.2,221.8 L397.6,221.9 L401.0,222.0 L404.4,222.1 L407.8,222.1 L411.2,222.2 L414.6,222.3 L418.0,222.4 L421.3,222.5 L424.7,222.5 L428.1,222.6 L431.5,222.7 L434.9,222.8 L438.3,222.9 L441.7,223.0 L445.1,223.1 L448.5,223.1 L451.8,223.2 L455.2,223.3 L458.6,223.4 L462.0,223.5 L465.4,223.6 L468.8,223.7 L472.2,223.8 L475.6,223.9 L479.0,224.0 L482.3,224.1 L485.7,224.1 L489.1,224.2 L492.5,224.3 L495.9,224.4 L499.3,224.5 L502.7,224.6 L506.1,224.7 L509.5,224.8 L512.8,224.9 L516.2,225.0 L519.6,225.1 L523.0,225.2 L526.4,225.3 L529.8,225.4 L533.2,225.5 L536.6,225.6 L540.0,225.7 L543.3,225.9 L546.7,226.0 L550.1,226.1 L553.5,226.2 L556.9,226.3 L560.3,226.4 L563.7,226.5 L567.1,226.6 L570.4,226.7 L573.8,226.8 L577.2,226.9 L580.6,227.0 L584.0,227.1 L587.4,227.2 L590.8,227.3 L594.2,227.5 L597.6,227.6 L600.9,227.7 L604.3,227.8 L607.7,227.9 L611.1,228.0 L614.5,228.1 L617.9,228.2 L621.3,228.3 L624.7,228.4 L628.1,228.6 L631.4,228.7 L634.8,228.8 L638.2,228.9 L641.6,229.0 L645.0,229.1 L648.4,229.2 L651.8,229.3 L655.2,229.4 L658.6,229.6 L661.9,229.7 L665.3,229.8 L668.7,229.9 L672.1,230.0 L675.5,230.1 L678.9,230.2 L682.3,230.3 L685.7,230.4 L689.1,230.5 L692.4,230.7 L695.8,230.8 L699.2,230.9 L702.6,231.0 L706.0,231.1 L709.4,231.2 L712.8,231.3 L716.2,231.4 L719.6,231.5 L722.9,231.6 L726.3,231.7 L729.7,231.8 L733.1,232.0 L736.5,232.1 L739.9,232.2 L743.3,232.3 L746.7,232.4 L750.1,232.5 L753.5,232.6 L756.8,232.7 L760.2,232.8 L763.6,232.9 L767.0,233.0 L770.4,233.1 L773.8,233.2 L777.2,233.4 L780.6,233.5 L784.0,233.6 L787.3,233.7 L790.7,233.8 L794.1,233.9 L797.5,234.0 L800.9,234.1 L804.3,234.2 L807.7,234.3 L811.1,234.5 L814.5,234.6 L817.9,234.7 L821.2,234.8 L824.6,234.9 L828.0,235.0 L831.4,235.1 L834.8,235.3 L838.2,235.4 L841.6,235.5 L845.0,235.6 L848.4,235.7 L851.7,235.8 L855.1,236.0 L858.5,236.1 L861.9,236.2 L865.3,236.3 L868.7,236.4 L872.1,236.6 L875.5,236.7 L878.9,236.8 L882.3,236.9 L885.6,237.0 L889.0,237.2 L892.4,237.3 L895.8,237.4 L899.2,237.6 L902.6,237.7 L906.0,237.8 L909.4,237.9 L912.7,238.1 L916.1,238.2 L919.5,238.3 L922.9,238.5 L926.3,238.6 L929.7,238.7 L933.1,238.9 L936.5,239.0 L939.9,239.2 L943.2,239.3 L946.6,239.4 L950.0,239.6 L953.4,239.7 L956.8,239.9 L960.2,240.0 L963.6,240.2 L966.9,240.3 L970.3,240.5 L973.7,240.6 L977.1,240.8 L980.5,240.9 L983.9,241.1 L987.3,241.2 L990.7,241.4 L994.0,241.6 L997.4,241.7 L1000.8,241.9 L1004.2,242.0 L1007.6,242.2 L1011.0,242.4 L1014.4,242.5 L1017.7,242.7 L1021.1,242.9 L1024.5,243.1 L1027.9,243.2 L1031.3,243.4 L1034.7,243.6 L1038.0,243.8 L1041.4,243.9 L1044.8,244.1 L1048.2,244.3 L1051.6,244.5 L1055.0,244.7 L1058.4,244.9 L1061.7,245.1 L1065.1,245.2 L1068.5,245.4 L1071.9,245.6 L1075.3,245.8 L1078.6,246.0 L1082.0,246.2 L1085.4,246.4 L1088.8,246.6 L1092.2,246.8 L1095.6,247.1 L1098.9,247.3 L1102.3,247.5 L1105.7,247.7 L1109.1,247.9 L1112.5,248.1 L1115.8,248.4 L1119.2,248.6 L1122.6,248.8 L1126.0,249.0 L1129.4,249.3 L1132.7,249.5 L1136.1,249.7 L1139.5,250.0 L1142.9,250.2 L1146.3,250.5 L1149.6,250.7 L1153.0,251.0 L1156.4,251.3 L1159.8,251.5 L1163.2,251.8 L1166.5,252.1 L1169.9,252.3 L1173.3,252.6 L1176.7,252.9 L1180.1,253.2 L1183.4,253.5 L1186.8,253.8 L1190.2,254.1 L1193.6,254.5 L1196.9,254.8 L1200.3,255.1 L1203.7,255.4 L1207.1,255.8 L1210.5,256.1 L1213.8,256.5 L1217.2,256.8 L1220.6,257.2 L1224.0,257.6 L1227.3,258.0 L1230.7,258.4 L1234.1,258.8 L1237.5,259.2 L1240.8,259.6 L1244.2,260.0 L1247.6,260.5 L1251.0,261.0 L1254.3,261.4 L1257.7,261.9 L1261.1,262.5 L1264.4,263.0 L1267.8,263.6 L1271.1,264.1 L1274.5,264.7 L1277.8,265.4 L1281.2,266.0 L1284.5,266.7 L1287.8,267.4 L1291.1,268.2 L1294.4,269.0 L1297.7,269.8 L1301.0,270.6 L1304.3,271.5 L1307.6,272.4 L1310.8,273.4 L1314.1,274.4 L1317.3,275.4 L1320.5,276.5 L1323.7,277.6 L1326.9,278.8 L1330.1,280.0 L1333.2,281.2 L1336.4,282.5 L1339.5,283.8 L1342.6,285.1 L1345.7,286.5 L1348.7,288.0 L1351.8,289.4 L1354.8,290.9 L1357.8,292.5 L1360.8,294.1 L1363.7,295.7 L1366.7,297.3 L1369.6,299.0 L1372.5,300.8 L1375.3,302.6 L1378.2,304.4 L1381.0,306.3 L1383.8,308.2 L1386.5,310.1 L1389.2,312.1 L1391.9,314.1 L1394.6,316.2 L1397.2,318.3 L1399.8,320.4 L1402.4,322.6 L1405.0,324.8 L1407.5,327.1 L1409.9,329.4 L1412.4,331.8 L1414.8,334.1 L1417.2,336.5 L1419.6,339.0 L1421.9,341.4 L1424.2,343.9 L1426.5,346.4 L1428.7,349.0 L1430.9,351.5 L1433.1,354.1 L1435.3,356.7 L1437.4,359.4 L1439.5,362.0 L1441.6,364.7 L1443.7,367.4 L1445.7,370.1 L1447.7,372.8 L1449.7,375.6 L1451.7,378.3 L1453.6,381.1 L1455.5,383.9 L1457.4,386.7 L1459.2,389.6 L1461.1,392.4 L1462.9,395.3 L1464.7,398.2 L1466.5,401.1 L1468.2,404.0 L1470.0,406.9 L1471.7,409.8 L1473.4,412.8 L1475.1,415.7 L1476.7,418.7 L1478.4,421.7 L1480.0,424.7 L1481.6,427.7 L1483.2,430.7 L1484.7,433.8 L1486.3,436.8 L1487.8,439.8 L1489.3,442.9 L1490.8,446.0 L1492.3,449.0 L1493.8,452.1 L1495.3,455.2 L1496.7,458.3 L1498.1,461.4 L1499.6,464.5 L1501.0,467.6 L1502.4,470.7 L1503.7,473.8 L1505.1,477.0 L1506.5,480.1 L1507.8,483.2 L1509.2,486.3 L1510.5,489.5 L1511.8,492.6 L1513.1,495.8 L1514.4,498.9 L1515.7,502.0 L1517.0,505.2 L1518.2,508.3 L1519.5,511.5 L1520.7,514.6 L1522.0,517.8 L1523.2,521.0 L1524.4,524.1 L1525.6,527.3 L1526.8,530.4 L1528.0,533.6 L1529.2,536.8 L1530.4,540.0 L1531.5,543.1 L1532.7,546.3 L1533.8,549.5 L1535.0,552.7 L1536.1,555.9 L1537.3,559.1 L1538.4,562.2 L1539.5,565.4 L1540.6,568.6 L1541.7,571.8 L1542.8,575.0 L1543.9,578.2 L1544.9,581.4 L1546.0,584.6 L1547.1,587.8 L1548.1,591.1 L1549.2,594.3 L1550.2,597.5 L1551.3,600.7 L1552.3,603.9 L1553.3,607.1 L1554.3,610.4 L1555.4,613.6 L1556.4,616.8 L1557.4,620.0 L1558.4,623.3 L1559.4,626.5 L1560.4,629.7 L1561.4,633.0 L1562.3,636.2 L1563.3,639.4 L1564.3,642.7 L1565.3,645.9 L1566.2,649.2 L1567.2,652.4 L1568.2,655.7 L1569.1,658.9 L1570.1,662.2 L1571.0,665.4 L1571.9,668.7 L1572.9,671.9 L1573.8,675.2 L1574.8,678.4 L1575.7,681.7 L1576.6,685.0 L1577.5,688.2 L1578.4,691.5 L1579.4,694.8 L1580.3,698.0 L1581.2,701.3 L1582.1,704.6 L1583.0,707.9 L1583.9,711.1 L1584.7,714.4 L1585.6,717.7 L1586.5,721.0 L1587.4,724.2 L1588.3,727.5 L1589.1,730.8 L1590.0,734.1 L1590.9,737.4 L1591.7,740.7 L1592.6,743.9 L1593.4,747.2 L1594.3,750.5 L1595.1,753.8 L1595.9,757.1 L1596.8,760.4 L1597.6,763.7 L1598.4,767.0 L1599.2,770.3 L1600.0,773.6 L1600.9,776.9 L1601.7,780.2 L1602.5,783.5 L1603.3,786.8 L1604.1,790.1 L1604.9,793.4 L1605.6,796.7 L1606.4,800.0 L1607.2,803.3 L1608.0,806.6 L1608.7,809.9 L1609.5,813.2 L1610.3,816.5 L1611.0,819.8 L1611.8,823.1 L1612.5,826.5 L1613.3,829.8 L1614.0,833.1 L1614.7,836.4 L1615.5,839.7 L1616.2,843.0 L1616.9,846.3 L1617.6,849.6 L1618.4,853.0 L1619.1,856.3 L1619.8,859.6 L1620.5,862.9 L1621.2,866.2 L1621.9,869.5 L1622.6,872.9 L1623.3,876.2 L1624.0,879.5 L1624.6,882.8 L1625.3,886.1 L1626.0,889.5 L1626.7,892.8 L1627.4,896.1 L1628.0,899.4 L1628.7,902.7 L1629.4,906.1 L1630.0,909.4 L1630.7,912.7 L1631.4,916.0 L1632.0,919.4 L1632.7,922.7 L1633.3,926.0 L1634.0,929.3 L1634.6,932.7 L1635.3,936.0 L1635.9,939.3 L1636.6,942.6 L1637.2,946.0 L1637.9,949.3 L1638.5,952.6 L1639.2,955.9 L1639.8,959.3 L1640.5,962.6 L1641.1,965.9 L1641.8,969.2 L1642.4,972.6 L1643.0,975.9 L1643.7,979.2 L1644.3,982.5 L1645.0,985.9 L1645.6,989.2 L1646.3,992.5 L1646.9,995.9 L1647.5,999.2 L1648.2,1002.5 L1648.8,1005.8 L1649.5,1009.2 L1650.1,1012.5 L1650.8,1015.8 L1651.4,1019.1 L1652.1,1022.5 L1652.7,1025.8 L1653.4,1029.1 L1654.0,1032.4 L1654.7,1035.8 L1655.3,1039.1 L1656.0,1042.4 L1656.7,1045.7 L1657.3,1049.1 L1658.0,1052.4 L1658.6,1055.7 L1659.3,1059.0 L1660.0,1062.4 L1660.7,1065.7 L1661.3,1069.0 L1662.0,1072.3 L1662.7,1075.6 L1663.4,1079.0 L1664.1,1082.3 L1664.7,1085.6 L1665.4,1088.9 L1666.1,1092.2 L1666.8,1095.6 L1667.5,1098.9 L1668.2,1102.2 L1668.9,1105.5 L1669.7,1108.8 L1670.4,1112.2 L1671.1,1115.5 L1671.8,1118.8 L1672.5,1122.1 L1673.3,1125.4 L1674.0,1128.7 L1674.7,1132.1 L1675.5,1135.4 L1676.2,1138.7 L1677.0,1142.0" stroke="#00ff00"/>
<path d="M262.0,202.4 L265.4,202.6 L268.9,202.7 L272.3,202.9 L275.7,203.1 L279.1,203.3 L282.5,203.4 L286.0,203.6 L289.4,203.8 L292.8,203.9 L296.2,204.1 L299.6,204.3 L303.1,204.4 L306.5,204.6 L309.9,204.8 L313.3,204.9 L316.8,205.1 L320.2,205.2 L323.6,205.4 L327.0,205.5 L330.4,205.7 L333.9,205.9 L337.3,206.0 L340.7,206.2 L344.1,206.3 L347.5,206.5 L351.0,206.6 L354.4,206.8 L357.8,206.9 L361.2,207.0 L364.7,207.2 L368.1,207.3 L371.5,207.5 L374.9,207.6 L378.3,207.8 L381.8,207.9 L385.2,208.0 L388.6,208.2 L392.0,208.3 L395.4,208.5 L398.9,208.6 L402.3,208.7 L405.7,208.9 L409.1,209.0 L412.6,209.1 L416.0,209.3 L419.4,209.4 L422.8,209.5 L426.2,209.7 L429.7,209.8 L433.1,209.9 L436.5,210.0 L439.9,210.2 L443.4,210.3 L446.8,210.4 L450.2,210.6 L453.6,210.7 L457.1,210.8 L460.5,210.9 L463.9,211.1 L467.3,211.2 L470.7,211.3 L474.2,211.4 L477.6,211.5 L481.0,211.7 L484.4,211.8 L487.9,211.9 L491.3,212.0 L494.7,212.1 L498.1,212.3 L501.5,212.4 L505.0,212.5 L508.4,212.6 L511.8,212.7 L515.2,212.8 L518.7,213.0 L522.1,213.1 L525.5,213.2 L528.9,213.3 L532.4,213.4 L535.8,213.5 L539.2,213.6 L542.6,213.7 L546.0,213.9 L549.5,214.0 L552.9,214.1 L556.3,214.2 L559.7,214.3 L563.2,214.4 L566.6,214.5 L570.0,214.6 L573.4,214.7 L576.9,214.9 L580.3,215.0 L583.7,215.1 L587.1,215.2 L590.5,215.3 L594.0,215.4 L597.4,215.5 L600.8,215.6 L604.2,215.7 L607.7,215.8 L611.1,215.9 L614.5,216.1 L617.9,216.2 L621.4,216.3 L624.8,216.4 L628.2,216.5 L631.6,216.6 L635.1,216.7 L638.5,216.8 L641.9,216.9 L645.3,217.0 L648.7,217.1 L652.2,217.2 L655.6,217.3 L659.0,217.5 L662.4,217.6 L665.9,217.7 L669.3,217.8 L672.7,217.9 L676.1,218.0 L679.6,218.1 L683.0,218.2 L686.4,218.3 L689.8,218.4 L693.2,218.5 L696.7,218.6 L700.1,218.8 L703.5,218.9 L706.9,219.0 L710.4,219.1 L713.8,219.2 L717.2,219.3 L720.6,219.4 L724.1,219.5 L727.5,219.6 L730.9,219.7 L734.3,219.9 L737.8,220.0 L741.2,220.1 L744.6,220.2 L748.0,220.3 L751.4,220.4 L754.9,220.5 L758.3,220.6 L761.7,220.8 L765.1,220.9 L768.6,221.0 L772.0,221.1 L775.4,221.2 L778.8,221.3 L782.2,221.5 L785.7,221.6 L789.1,221.7 L792.5,221.8 L795.9,221.9 L799.4,222.0 L802.8,222.2 L806.2,222.3 L809.6,222.4 L813.1,222.5 L816.5,222.6 L819.9,222.8 L823.3,222.9 L826.7,223.0 L830.2,223.1 L833.6,223.3 L837.0,223.4 L840.4,223.5 L843.9,223.6 L847.3,223.8 L850.7,223.9 L854.1,224.0 L857.5,224.2 L861.0,224.3 L864.4,224.4 L867.8,224.5 L871.2,224.7 L874.7,224.8 L878.1,224.9 L881.5,225.1 L884.9,225.2 L888.3,225.4 L891.8,225.5 L895.2,225.6 L898.6,225.8 L902.0,225.9 L905.5,226.0 L908.9,226.2 L912.3,226.3 L915.7,226.5 L919.1,226.6 L922.6,226.8 L926.0,226.9 L929.4,227.0 L932.8,227.2 L936.3,227.3 L939.7,227.5 L943.1,227.6 L946.5,227.8 L949.9,227.9 L953.4,228.1 L956.8,228.3 L960.2,228.4 L963.6,228.6 L967.0,228.7 L970.5,228.9 L973.9,229.0 L977.3,229.2 L980.7,229.4 L984.1,229.5 L987.6,229.7 L991.0,229.9 L994.4,230.0 L997.8,230.2 L1001.2,230.4 L1004.7,230.5 L1008.1,230.7 L1011.5,230.9 L1014.9,231.0 L1018.4,231.2 L1021.8,231.4 L1025.2,231.6 L1028.6,231.7 L1032.0,231.9 L1035.5,232.1 L1038.9,232.3 L1042.3,232.5 L1045.7,232.7 L1049.1,232.8 L1052.5,233.0 L1056.0,233.2 L1059.4,233.4 L1062.8,233.6 L1066.2,233.8 L1069.6,234.0 L1073.1,234.2 L1076.5,234.4 L1079.9,234.6 L1083.3,234.8 L1086.7,235.0 L1090.2,235.2 L1093.6,235.4 L1097.0,235.6 L1100.4,235.8 L1103.8,236.0 L1107.3,236.2 L1110.7,236.4 L1114.1,236.6 L1117.5,236.9 L1120.9,237.1 L1124.3,237.3 L1127.8,237.5 L1131.2,237.7 L1134.6,238.0 L1138.0,238.2 L1141.4,238.4 L1144.8,238.7 L1148.3,238.9 L1151.7,239.2 L1155.1,239.4 L1158.5,239.7 L1161.9,240.0 L1165.3,240.2 L1168.7,240.5 L1172.2,240.8 L1175.6,241.1 L1179.0,241.4 L1182.4,241.7 L1185.8,242.0 L1189.2,242.3 L1192.6,242.6 L1196.0,242.9 L1199.4,243.2 L1202.8,243.6 L1206.3,243.9 L1209.7,244.3 L1213.1,244.6 L1216.5,245.0 L1219.9,245.4 L1223.3,245.8 L1226.7,246.2 L1230.1,246.6 L1233.5,247.0 L1236.9,247.4 L1240.3,247.8 L1243.7,248.3 L1247.1,248.7 L1250.5,249.2 L1253.9,249.7 L1257.2,250.2 L1260.6,250.7 L1264.0,251.2 L1267.4,251.7 L1270.8,252.2 L1274.2,252.8 L1277.6,253.4 L1281.0,253.9 L1284.3,254.6 L1287.7,255.2 L1291.1,255.8 L1294.4,256.5 L1297.8,257.2 L1301.1,257.9 L1304.5,258.7 L1307.8,259.5 L1311.2,260.3 L1314.5,261.1 L1317.8,262.0 L1321.1,262.9 L1324.4,263.9 L1327.7,264.8 L1331.0,265.9 L1334.2,266.9 L1337.5,268.0 L1340.7,269.1 L1343.9,270.3 L1347.1,271.5 L1350.3,272.8 L1353.5,274.1 L1356.6,275.4 L1359.8,276.8 L1362.9,278.3 L1366.0,279.7 L1369.0,281.3 L1372.1,282.8 L1375.1,284.5 L1378.1,286.1 L1381.1,287.8 L1384.0,289.6 L1386.9,291.4 L1389.8,293.2 L1392.7,295.1 L1395.5,297.0 L1398.3,299.0 L1401.1,301.0 L1403.8,303.0 L1406.5,305.1 L1409.2,307.3 L1411.9,309.4 L1414.5,311.7 L1417.1,313.9 L1419.6,316.2 L1422.1,318.5 L1424.6,320.9 L1427.1,323.3 L1429.5,325.7 L1431.9,328.2 L1434.3,330.7 L1436.6,333.2 L1438.9,335.7 L1441.2,338.3 L1443.5,340.9 L1445.7,343.5 L1447.9,346.2 L1450.0,348.9 L1452.2,351.5 L1454.3,354.3 L1456.3,357.0 L1458.4,359.7 L1460.4,362.5 L1462.4,365.3 L1464.3,368.1 L1466.3,370.9 L1468.2,373.8 L1470.0,376.6 L1471.9,379.5 L1473.7,382.4 L1475.5,385.3 L1477.3,388.3 L1479.1,391.2 L1480.8,394.2 L1482.5,397.1 L1484.2,400.1 L1485.9,403.1 L1487.5,406.1 L1489.1,409.1 L1490.7,412.2 L1492.3,415.2 L1493.9,418.3 L1495.4,421.3 L1496.9,424.4 L1498.4,427.5 L1499.9,430.6 L1501.4,433.7 L1502.8,436.8 L1504.3,440.0 L1505.7,443.1 L1507.1,446.2 L1508.5,449.4 L1509.8,452.5 L1511.2,455.7 L1512.5,458.8 L1513.9,462.0 L1515.2,465.2 L1516.5,468.4 L1517.8,471.5 L1519.0,474.7 L1520.3,477.9 L1521.6,481.1 L1522.8,484.3 L1524.0,487.5 L1525.3,490.7 L1526.5,493.9 L1527.7,497.1 L1528.9,500.3 L1530.1,503.5 L1531.3,506.7 L1532.4,509.9 L1533.6,513.1 L1534.7,516.4 L1535.9,519.6 L1537.0,522.8 L1538.2,526.0 L1539.3,529.2 L1540.4,532.5 L1541.5,535.7 L1542.7,538.9 L1543.8,542.1 L1544.9,545.4 L1546.0,548.6 L1547.1,551.9 L1548.2,555.1 L1549.3,558.3 L1550.3,561.6 L1551.4,564.8 L1552.5,568.1 L1553.6,571.3 L1554.7,574.6 L1555.7,577.8 L1556.8,581.1 L1557.9,584.3 L1558.9,587.6 L1560.0,590.8 L1561.0,594.1 L1562.1,597.4 L1563.1,600.6 L1564.2,603.9 L1565.2,607.2 L1566.2,610.5 L1567.2,613.7 L1568.2,617.0 L1569.2,620.3 L1570.2,623.6 L1571.2,626.8 L1572.2,630.1 L1573.2,633.4 L1574.2,636.7 L1575.1,640.0 L1576.1,643.3 L1577.0,646.6 L1577.9,649.9 L1578.9,653.2 L1579.8,656.5 L1580.7,659.8 L1581.6,663.1 L1582.5,666.4 L1583.3,669.7 L1584.2,673.0 L1585.1,676.3 L1585.9,679.6 L1586.8,683.0 L1587.6,686.3 L1588.5,689.6 L1589.3,692.9 L1590.1,696.2 L1590.9,699.6 L1591.8,702.9 L1592.6,706.2 L1593.4,709.6 L1594.1,712.9 L1594.9,716.2 L1595.7,719.6 L1596.5,722.9 L1597.3,726.2 L1598.0,729.6 L1598.8,732.9 L1599.5,736.2 L1600.3,739.6 L1601.0,742.9 L1601.8,746.3 L1602.5,749.6 L1603.3,752.9 L1604.0,756.3 L1604.7,759.6 L1605.4,763.0 L1606.2,766.3 L1606.9,769.7 L1607.6,773.0 L1608.3,776.4 L1609.0,779.7 L1609.8,783.1 L1610.5,786.4 L1611.2,789.8 L1611.9,793.1 L1612.6,796.5 L1613.3,799.8 L1614.0,803.2 L1614.7,806.5 L1615.4,809.9 L1616.1,813.2 L1616.8,816.6 L1617.5,819.9 L1618.2,823.3 L1618.9,826.6 L1619.6,830.0 L1620.3,833.3 L1621.0,836.7 L1621.8,840.0 L1622.5,843.4 L1623.2,846.7 L1623.9,850.1 L1624.6,853.4 L1625.3,856.8 L1626.0,860.1 L1626.7,863.5 L1627.4,866.9 L1628.1,870.2 L1628.8,873.6 L1629.5,876.9 L1630.3,880.3 L1631.0,883.6 L1631.7,887.0 L1632.4,890.3 L1633.1,893.7 L1633.8,897.0 L1634.5,900.4 L1635.2,903.7 L1635.9,907.1 L1636.6,910.4 L1637.2,913.8 L1637.9,917.1 L1638.6,920.5 L1639.3,923.9 L1640.0,927.2 L1640.7,930.6 L1641.3,933.9 L1642.0,937.3 L1642.7,940.6 L1643.4,944.0 L1644.0,947.4 L1644.7,950.7 L1645.4,954.1 L1646.0,957.4 L1646.7,960.8 L1647.3,964.2 L1648.0,967.5 L1648.6,970.9 L1649.2,974.3 L1649.9,977.6 L1650.5,981.0 L1651.1,984.4 L1651.7,987.7 L1652.4,991.1 L1653.0,994.5 L1653.6,997.8 L1654.2,1001.2 L1654.9,1004.6 L1655.5,1007.9 L1656.1,1011.3 L1656.7,1014.7 L1657.4,1018.0 L1658.0,1021.4 L1658.6,1024.8 L1659.3,1028.1 L1659.9,1031.5 L1660.6,1034.8 L1661.2,1038.2 L1661.9,1041.6 L1662.5,1044.9 L1663.2,1048.3 L1663.9,1051.6 L1664.6,1055.0 L1665.2,1058.3 L1665.9,1061.7 L1666.6,1065.1 L1667.3,1068.4 L1668.0,1071.8 L1668.7,1075.1 L1669.4,1078.5 L1670.2,1081.8 L1670.9,1085.1 L1671.6,1088.5 L1672.3,1091.8 L1673.1,1095.2 L1673.8,1098.5 L1674.6,1101.9 L1675.3,1105.2 L1676.1,1108.6 L1676.8,1111.9 L1677.6,1115.2 L1678.3,1118.6 L1679.1,1121.9 L1679.8,1125.2 L1680.6,1128.6 L1681.4,1131.9 L1682.2,1135.3 L1682.9,1138.6 L1683.7,1141.9" stroke="#ff00ff"/>
<path d="M262.0,155.1 L265.4,155.3 L268.9,155.5 L272.4,155.7 L275.9,155.9 L279.4,156.0 L282.8,156.2 L286.3,156.4 L289.8,156.6 L293.3,156.8 L296.8,156.9 L300.3,157.1 L303.7,157.3 L307.2,157.4 L310.7,157.6 L314.2,157.8 L317.7,158.0 L321.2,158.1 L324.6,158.3 L328.1,158.4 L331.6,158.6 L335.1,158.8 L338.6,158.9 L342.0,159.1 L345.5,159.2 L349.0,159.4 L352.5,159.6 L356.0,159.7 L359.5,159.9 L362.9,160.0 L366.4,160.2 L369.9,160.3 L373.4,160.5 L376.9,160.6 L380.3,160.8 L383.8,160.9 L387.3,161.1 L390.8,161.2 L394.3,161.3 L397.7,161.5 L401.2,161.6 L404.7,161.8 L408.2,161.9 L411.7,162.0 L415.2,162.2 L418.6,162.3 L422.1,162.5 L425.6,162.6 L429.1,162.7 L432.6,162.9 L436.0,163.0 L439.5,163.1 L443.0,163.3 L446.5,163.4 L450.0,163.5 L453.4,163.7 L456.9,163.8 L460.4,163.9 L463.9,164.0 L467.4,164.2 L470.9,164.3 L474.3,164.4 L477.8,164.5 L481.3,164.7 L484.8,164.8 L488.3,164.9 L491.7,165.0 L495.2,165.2 L498.7,165.3 L502.2,165.4 L505.7,165.5 L509.1,165.7 L512.6,165.8 L516.1,165.9 L519.6,166.0 L523.1,166.1 L526.5,166.3 L530.0,166.4 L533.5,166.5 L537.0,166.6 L540.5,166.7 L544.0,166.8 L547.4,167.0 L550.9,167.1 L554.4,167.2 L557.9,167.3 L561.4,167.4 L564.8,167.5 L568.3,167.7 L571.8,167.8 L575.3,167.9 L578.8,168.0 L582.2,168.1 L585.7,168.2 L589.2,168.3 L592.7,168.4 L596.2,168.6 L599.6,168.7 L603.1,168.8 L606.6,168.9 L610.1,169.0 L613.6,169.1 L617.0,169.2 L620.5,169.4 L624.0,169.5 L627.5,169.6 L631.0,169.7 L634.4,169.8 L637.9,169.9 L641.4,170.0 L644.9,170.1 L648.4,170.3 L651.8,170.4 L655.3,170.5 L658.8,170.6 L662.3,170.7 L665.8,170.8 L669.2,170.9 L672.7,171.1 L676.2,171.2 L679.7,171.3 L683.2,171.4 L686.6,171.5 L690.1,171.6 L693.6,171.7 L697.1,171.9 L700.6,172.0 L704.0,172.1 L707.5,172.2 L711.0,172.3 L714.5,172.4 L718.0,172.6 L721.4,172.7 L724.9,172.8 L728.4,172.9 L731.9,173.0 L735.4,173.2 L738.8,173.3 L742.3,173.4 L745.8,173.5 L749.3,173.6 L752.8,173.8 L756.2,173.9 L759.7,174.0 L763.2,174.1 L766.7,174.2 L770.2,174.4 L773.6,174.5 L777.1,174.6 L780.6,174.7 L784.1,174.9 L787.6,175.0 L791.0,175.1 L794.5,175.3 L798.0,175.4 L801.5,175.5 L805.0,175.7 L808.4,175.8 L811.9,175.9 L815.4,176.0 L818.9,176.2 L822.4,176.3 L825.8,176.5 L829.3,176.6 L832.8,176.7 L836.3,176.9 L839.8,177.0 L843.2,177.1 L846.7,177.3 L850.2,177.4 L853.7,177.6 L857.2,177.7 L860.6,177.8 L864.1,178.0 L867.6,178.1 L871.1,178.3 L874.6,178.4 L878.0,178.6 L881.5,178.7 L885.0,178.9 L888.5,179.0 L892.0,179.2 L895.4,179.3 L898.9,179.5 L902.4,179.6 L905.9,179.8 L909.4,180.0 L912.8,180.1 L916.3,180.3 L919.8,180.4 L923.3,180.6 L926.8,180.8 L930.2,180.9 L933.7,181.1 L937.2,181.3 L940.7,181.4 L944.2,181.6 L947.6,181.8 L951.1,181.9 L954.6,182.1 L958.1,182.3 L961.6,182.5 L965.0,182.6 L968.5,182.8 L972.0,183.0 L975.5,183.2 L978.9,183.4 L982.4,183.6 L985.9,183.7 L989.4,183.9 L992.9,184.1 L996.3,184.3 L999.8,184.5 L1003.3,184.7 L1006.8,184.9 L1010.3,185.1 L1013.7,185.3 L1017.2,185.5 L1020.7,185.7 L1024.2,185.9 L1027.7,186.1 L1031.1,186.3 L1034.6,186.5 L1038.1,186.7 L1041.6,186.9 L1045.1,187.1 L1048.5,187.3 L1052.0,187.5 L1055.5,187.8 L1059.0,188.0 L1062.5,188.2 L1065.9,188.4 L1069.4,188.6 L1072.9,188.9 L1076.4,189.1 L1079.9,189.3 L1083.3,189.6 L1086.8,189.8 L1090.3,190.0 L1093.8,190.3 L1097.3,190.5 L1100.7,190.7 L1104.2,191.0 L1107.7,191.2 L1111.2,191.5 L1114.7,191.7 L1118.1,192.0 L1121.6,192.2 L1125.1,192.5 L1128.6,192.7 L1132.1,193.0 L1135.5,193.2 L1139.0,193.5 L1142.5,193.8 L1146.0,194.0 L1149.5,194.3 L1152.9,194.6 L1156.4,194.8 L1159.9,195.1 L1163.4,195.4 L1166.9,195.7 L1170.3,196.0 L1173.8,196.3 L1177.3,196.6 L1180.8,196.9 L1184.2,197.2 L1187.7,197.5 L1191.2,197.9 L1194.6,198.2 L1198.1,198.6 L1201.6,198.9 L1205.0,199.3 L1208.5,199.7 L1211.9,200.1 L1215.4,200.5 L1218.8,200.9 L1222.3,201.4 L1225.7,201.8 L1229.2,202.3 L1232.6,202.7 L1236.1,203.2 L1239.5,203.7 L1242.9,204.3 L1246.4,204.8 L1249.8,205.4 L1253.2,205.9 L1256.6,206.5 L1260.0,207.1 L1263.4,207.8 L1266.8,208.4 L1270.2,209.1 L1273.6,209.8 L1277.0,210.5 L1280.4,211.2 L1283.8,212.0 L1287.2,212.7 L1290.5,213.5 L1293.9,214.3 L1297.3,215.2 L1300.6,216.1 L1304.0,216.9 L1307.3,217.9 L1310.7,218.8 L1314.0,219.8 L1317.3,220.8 L1320.6,221.8 L1324.0,222.8 L1327.3,223.9 L1330.6,225.0 L1333.9,226.2 L1337.2,227.3 L1340.4,228.5 L1343.7,229.8 L1347.0,231.0 L1350.2,232.3 L1353.5,233.6 L1356.7,235.0 L1360.0,236.4 L1363.2,237.8 L1366.4,239.3 L1369.5,240.8 L1372.7,242.3 L1375.8,244.0 L1378.9,245.6 L1382.0,247.3 L1385.0,249.1 L1388.0,250.9 L1390.9,252.8 L1393.8,254.7 L1396.7,256.7 L1399.5,258.7 L1402.2,260.9 L1404.9,263.0 L1407.6,265.3 L1410.2,267.6 L1412.7,270.0 L1415.2,272.4 L1417.7,274.8 L1420.1,277.3 L1422.5,279.9 L1424.9,282.5 L1427.2,285.1 L1429.5,287.7 L1431.7,290.4 L1433.9,293.2 L1436.1,295.9 L1438.3,298.7 L1440.4,301.5 L1442.5,304.3 L1444.6,307.1 L1446.6,309.9 L1448.7,312.8 L1450.7,315.6 L1452.7,318.5 L1454.6,321.4 L1456.5,324.3 L1458.5,327.2 L1460.3,330.2 L1462.2,333.1 L1464.0,336.1 L1465.9,339.1 L1467.7,342.1 L1469.4,345.1 L1471.2,348.1 L1472.9,351.1 L1474.6,354.1 L1476.3,357.2 L1478.0,360.3 L1479.6,363.3 L1481.3,366.4 L1482.9,369.5 L1484.4,372.6 L1486.0,375.7 L1487.6,378.8 L1489.1,381.9 L1490.6,385.1 L1492.1,388.2 L1493.6,391.4 L1495.0,394.5 L1496.5,397.7 L1497.9,400.9 L1499.3,404.0 L1500.7,407.2 L1502.1,410.4 L1503.5,413.6 L1504.8,416.8 L1506.1,420.1 L1507.5,423.3 L1508.8,426.5 L1510.1,429.8 L1511.3,433.0 L1512.6,436.2 L1513.9,439.5 L1515.1,442.7 L1516.3,446.0 L1517.6,449.3 L1518.8,452.5 L1520.0,455.8 L1521.2,459.1 L1522.3,462.4 L1523.5,465.7 L1524.7,469.0 L1525.8,472.2 L1526.9,475.5 L1528.1,478.8 L1529.2,482.1 L1530.3,485.4 L1531.4,488.7 L1532.5,492.0 L1533.6,495.4 L1534.7,498.7 L1535.8,502.0 L1536.8,505.3 L1537.9,508.6 L1539.0,511.9 L1540.0,515.3 L1541.0,518.6 L1542.1,521.9 L1543.1,525.2 L1544.1,528.6 L1545.1,531.9 L1546.1,535.2 L1547.1,538.6 L1548.1,541.9 L1549.1,545.2 L1550.1,548.6 L1551.0,551.9 L1552.0,555.3 L1553.0,558.6 L1553.9,562.0 L1554.9,565.3 L1555.8,568.7 L1556.7,572.0 L1557.7,575.4 L1558.6,578.7 L1559.5,582.1 L1560.4,585.5 L1561.3,588.8 L1562.2,592.2 L1563.1,595.5 L1564.0,598.9 L1564.9,602.3 L1565.8,605.6 L1566.6,609.0 L1567.5,612.4 L1568.3,615.8 L1569.2,619.1 L1570.1,622.5 L1570.9,625.9 L1571.7,629.3 L1572.6,632.7 L1573.4,636.0 L1574.2,639.4 L1575.0,642.8 L1575.9,646.2 L1576.7,649.6 L1577.5,653.0 L1578.3,656.4 L1579.1,659.7 L1579.9,663.1 L1580.7,666.5 L1581.5,669.9 L1582.2,673.3 L1583.0,676.7 L1583.8,680.1 L1584.6,683.5 L1585.3,686.9 L1586.1,690.3 L1586.9,693.7 L1587.6,697.1 L1588.4,700.5 L1589.1,703.9 L1589.9,707.3 L1590.6,710.7 L1591.3,714.1 L1592.1,717.5 L1592.8,720.9 L1593.5,724.3 L1594.3,727.8 L1595.0,731.2 L1595.7,734.6 L1596.4,738.0 L1597.2,741.4 L1597.9,744.8 L1598.6,748.2 L1599.3,751.6 L1600.0,755.0 L1600.7,758.5 L1601.4,761.9 L1602.1,765.3 L1602.8,768.7 L1603.5,772.1 L1604.2,775.5 L1604.9,778.9 L1605.6,782.4 L1606.3,785.8 L1607.0,789.2 L1607.7,792.6 L1608.3,796.0 L1609.0,799.4 L1609.7,802.9 L1610.4,806.3 L1611.1,809.7 L1611.7,813.1 L1612.4,816.5 L1613.1,819.9 L1613.8,823.4 L1614.5,826.8 L1615.1,830.2 L1615.8,833.6 L1616.5,837.0 L1617.1,840.5 L1617.8,843.9 L1618.5,847.3 L1619.2,850.7 L1619.8,854.1 L1620.5,857.5 L1621.2,861.0 L1621.8,864.4 L1622.5,867.8 L1623.2,871.2 L1623.8,874.6 L1624.5,878.1 L1625.1,881.5 L1625.8,884.9 L1626.5,888.3 L1627.1,891.7 L1627.8,895.2 L1628.4,898.6 L1629.1,902.0 L1629.7,905.4 L1630.4,908.8 L1631.0,912.3 L1631.7,915.7 L1632.3,919.1 L1633.0,922.5 L1633.6,925.9 L1634.2,929.4 L1634.9,932.8 L1635.5,936.2 L1636.1,939.6 L1636.8,943.1 L1637.4,946.5 L1638.0,949.9 L1638.7,953.3 L1639.3,956.8 L1639.9,960.2 L1640.5,963.6 L1641.2,967.0 L1641.8,970.5 L1642.4,973.9 L1643.0,977.3 L1643.6,980.7 L1644.2,984.2 L1644.8,987.6 L1645.4,991.0 L1646.0,994.5 L1646.6,997.9 L1647.2,1001.3 L1647.8,1004.8 L1648.4,1008.2 L1649.0,1011.6 L1649.6,1015.1 L1650.1,1018.5 L1650.7,1021.9 L1651.3,1025.4 L1651.9,1028.8 L1652.4,1032.2 L1653.0,1035.7 L1653.6,1039.1 L1654.1,1042.5 L1654.7,1046.0 L1655.3,1049.4 L1655.8,1052.9 L1656.4,1056.3 L1656.9,1059.7 L1657.5,1063.2 L1658.0,1066.6 L1658.6,1070.1 L1659.2,1073.5 L1659.7,1076.9 L1660.3,1080.4 L1660.9,1083.8 L1661.4,1087.2 L1662.0,1090.7 L1662.6,1094.1 L1663.2,1097.5 L1663.8,1101.0 L1664.4,1104.4 L1665.0,1107.8 L1665.6,1111.3 L1666.3,1114.7 L1666.9,1118.1 L1667.5,1121.5 L1668.2,1124.9 L1668.9,1128.4 L1669.6,1131.8 L1670.3,1135.2 L1671.0,1138.6 L1671.7,1142.0" stroke="#808000"/>
</g>
<g font-family="'Liberation Sans', sans-serif" font-weight="bold" font-size="56" fill="#000">
<text transform="translate(229.8,1152.9) scale(0.91,1)" text-anchor="end">0</text>
<text transform="translate(229.8,878.8) scale(0.91,1)" text-anchor="end">5</text>
<text transform="translate(229.8,604.7) scale(0.91,1)" text-anchor="end">10</text>
<text transform="translate(229.8,330.6) scale(0.91,1)" text-anchor="end">15</text>
<text transform="translate(229.8,56.5) scale(0.91,1)" text-anchor="end">20</text>
<text transform="translate(267.4,1217.5) scale(0.91,1)" text-anchor="middle">0.0</text>
<text transform="translate(630.25,1217.5) scale(0.91,1)" text-anchor="middle">0.2</text>
<text transform="translate(993.1,1217.5) scale(0.91,1)" text-anchor="middle">0.4</text>
<text transform="translate(1355.95,1217.5) scale(0.91,1)" text-anchor="middle">0.6</text>
<text transform="translate(1718.8,1217.5) scale(0.91,1)" text-anchor="middle">0.8</text>
</g>
<text font-family="'Liberation Sans', sans-serif" font-weight="bold" font-size="76.5" transform="translate(0,1304) scale(0.94,1)" x="882.68 934.35 983.61 1005.29 1030.61 1077.09 1125.03 1155.03 1192.71 1219.91 1271.60" y="0">Voltage [V]</text>
<text font-family="'Liberation Sans', sans-serif" font-weight="bold" font-size="77" transform="translate(91.8,0) rotate(-90) scale(0.98,1)" x="-1102.00 -1043.26 -993.16 -962.24 -932.21 -888.36 -838.33 -808.33 -788.89 -740.58 -695.50 -648.02 -602.39 -579.76 -555.08 -525.08 -488.07 -461.73 -388.97 -329.68 -308.22 -264.69 -193.35 -163.90" y="0">Current density (mA/cm<tspan font-size="45.5" dy="-41.2">2</tspan><tspan dy="41.2">)</tspan></text>
<g stroke-width="8.4" stroke-linecap="round" fill="none">
<line x1="294" y1="581.4" x2="462" y2="581.4" stroke="#000000"/>
<line x1="294" y1="678.6" x2="462" y2="678.6" stroke="#ff0000"/>
<line x1="294" y1="776.2" x2="462" y2="776.2" stroke="#0000ff"/>
<line x1="294" y1="873.6" x2="462" y2="873.6" stroke="#00ff00"/>
<line x1="294" y1="971.2" x2="462" y2="971.2" stroke="#ff00ff"/>
<line x1="294" y1="1068.4" x2="462" y2="1068.4" stroke="#808000"/>
</g>
<g font-family="'Liberation Sans', sans-serif" font-weight="bold" font-size="74.5" fill="#000">
<text transform="translate(0,606.70) scale(0.9,1)" x="536.62 565.40 614.30" y="0">(a)</text>
<text transform="translate(0,704.35) scale(0.9,1)" x="536.62 567.93 620.08" y="0">(b)</text>
<text transform="translate(0,802.00) scale(0.9,1)" x="536.62 566.92 614.30" y="0">(c)</text>
<text transform="translate(0,899.65) scale(0.9,1)" x="536.62 566.95 619.30" y="0">(d)</text>
<text transform="translate(0,997.30) scale(0.9,1)" x="536.62 567.10 614.30" y="0">(e)</text>
<text transform="translate(0,1094.95) scale(0.9,1)" x="536.62 566.00 595.97" y="0">(f)</text>
</g>
</svg>
</body>
</html>
